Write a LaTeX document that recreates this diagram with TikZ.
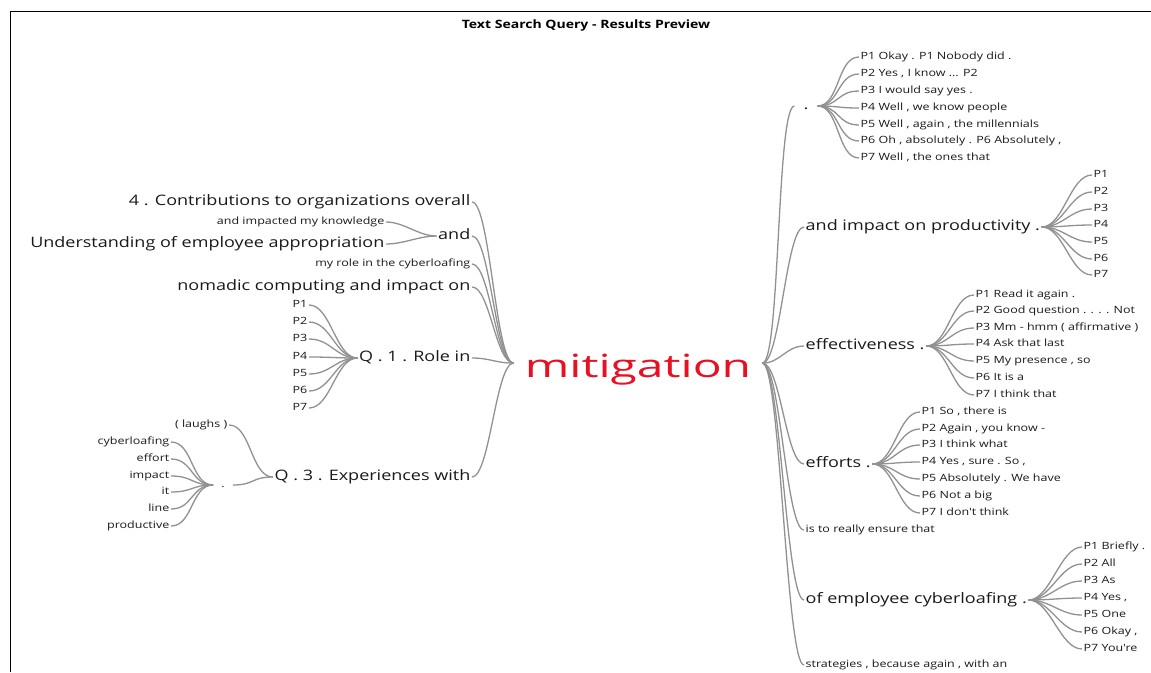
\documentclass[tikz,border=0pt]{standalone}
\usepackage{fontspec}
\setmainfont{Open Sans}
\newfontfamily\widefnt[FakeStretch=1.25]{Open Sans}
\newfontfamily\hugefnt[FakeStretch=1.5]{Open Sans}
\newfontfamily\titlefnt[FakeStretch=1.22]{Open Sans}
\usepackage{xcolor}
\definecolor{linkgray}{RGB}{145,145,145}
\definecolor{labelgray}{RGB}{25,25,25}
\definecolor{hitred}{RGB}{232,17,35}
\usepackage{tikz}

\begin{document}
\begin{tikzpicture}[x=1pt, y=-1pt]

        % Estilos
        \tikzstyle{big} = [font=\widefnt\fontsize{14.4}{16}\selectfont, text=labelgray, inner sep=1.5pt, text height=10.5pt, text depth=3pt]
        \tikzstyle{leaf} = [font=\widefnt\fontsize{10}{12}\selectfont, text=labelgray, inner sep=1.5pt, text height=7.2pt, text depth=2.2pt]
        \tikzstyle{link} = [draw=linkgray, line width=1.3pt]

        \useasboundingbox (0,0) rectangle (1151,672);
        \draw[line width=1.2pt] (10.5,672) -- (10.5,11.5) -- (1151,11.5);

        \node[font=\titlefnt\bfseries\fontsize{11.5}{13}\selectfont] (title) at (586,26) {Text Search Query - Results Preview};

        % Palavra central
        \node[font=\hugefnt\fontsize{32}{36}\selectfont, text=hitred, anchor=base, inner xsep=11pt] (mit) at (638,377) {mitigation};

        \begin{scope}[yshift=-2pt]
        % ---------------------------------------------------------
        % Lado esquerdo
        % ---------------------------------------------------------
        \node[big, anchor=east] (contrib) at (472,200) {4 . Contributions to organizations overall};
        \node[big, anchor=east] (andL) at (472,234) {and};
        \node[leaf, anchor=east] (knowl) at (386,220) {and impacted my knowledge};
        \node[big, anchor=east] (underst) at (386,242) {Understanding of employee appropriation};
        \node[leaf, anchor=east] (myrole) at (472,262) {my role in the cyberloafing};
        \node[big, anchor=east] (nomadic) at (472,285) {nomadic computing and impact on};

        \node[big, anchor=east] (qone) at (472,356) {Q . 1 . Role in};
        \node[leaf, anchor=east] (qonea) at (309,303) {P1};
        \node[leaf, anchor=east] (qoneb) at (309,320) {P2};
        \node[leaf, anchor=east] (qonec) at (309,337) {P3};
        \node[leaf, anchor=east] (qoned) at (309,355) {P4};
        \node[leaf, anchor=east] (qonee) at (309,372) {P5};
        \node[leaf, anchor=east] (qonef) at (309,389) {P6};
        \node[leaf, anchor=east] (qoneg) at (309,406) {P7};

        \node[big, anchor=east] (qthree) at (472,475) {Q . 3 . Experiences with};
        \node[leaf, anchor=east] (laughs) at (229,423) {( laughs )};
        \node[leaf, inner xsep=8pt] (dotL) at (223,483) {.};
        \node[leaf, anchor=east] (wcyber) at (171,440) {cyberloafing};
        \node[leaf, anchor=east] (weffort) at (171,457) {effort};
        \node[leaf, anchor=east] (wimpact) at (171,474) {impact};
        \node[leaf, anchor=east] (wit) at (171,490) {it};
        \node[leaf, anchor=east] (wline) at (171,507) {line};
        \node[leaf, anchor=east] (wprod) at (171,524) {productive};

        % ---------------------------------------------------------
        % Lado direito
        % ---------------------------------------------------------
        \node[big, inner xsep=9pt] (dotR) at (806,104) {.};
        \node[leaf, anchor=west] (ra) at (859,55) {P1 Okay . P1 Nobody did .};
        \node[leaf, anchor=west] (rb) at (859,72) {P2 Yes , I know ... P2};
        \node[leaf, anchor=west] (rc) at (859,89) {P3 I would say yes .};
        \node[leaf, anchor=west] (rd) at (859,106) {P4 Well , we know people};
        \node[leaf, anchor=west] (re) at (859,123) {P5 Well , again , the millennials};
        \node[leaf, anchor=west] (rf) at (859,139) {P6 Oh , absolutely . P6 Absolutely ,};
        \node[leaf, anchor=west] (rg) at (859,156) {P7 Well , the ones that};

        \node[big, anchor=west] (prod) at (804,225) {and impact on productivity .};
        \node[leaf, anchor=west] (proda) at (1092,173) {P1};
        \node[leaf, anchor=west] (prodb) at (1092,190) {P2};
        \node[leaf, anchor=west] (prodc) at (1092,207) {P3};
        \node[leaf, anchor=west] (prodd) at (1092,223) {P4};
        \node[leaf, anchor=west] (prode) at (1092,240) {P5};
        \node[leaf, anchor=west] (prodf) at (1092,257) {P6};
        \node[leaf, anchor=west] (prodg) at (1092,273) {P7};

        \node[big, anchor=west] (eff) at (804,344) {effectiveness .};
        \node[leaf, anchor=west] (effa) at (974,293) {P1 Read it again .};
        \node[leaf, anchor=west] (effb) at (974,309) {P2 Good question . . . . Not};
        \node[leaf, anchor=west] (effc) at (974,326) {P3 Mm - hmm ( affirmative )};
        \node[leaf, anchor=west] (effd) at (974,342) {P4 Ask that last};
        \node[leaf, anchor=west] (effe) at (974,359) {P5 My presence , so};
        \node[leaf, anchor=west] (efff) at (974,376) {P6 It is a};
        \node[leaf, anchor=west] (effg) at (974,393) {P7 I think that};

        \node[big, anchor=west] (efforts) at (804,462) {efforts .};
        \node[leaf, anchor=west] (effoa) at (920,410) {P1 So , there is};
        \node[leaf, anchor=west] (effob) at (920,427) {P2 Again , you know -};
        \node[leaf, anchor=west] (effoc) at (920,443) {P3 I think what};
        \node[leaf, anchor=west] (effod) at (920,460) {P4 Yes , sure . So ,};
        \node[leaf, anchor=west] (effoe) at (920,477) {P5 Absolutely . We have};
        \node[leaf, anchor=west] (effof) at (920,494) {P6 Not a big};
        \node[leaf, anchor=west] (effog) at (920,511) {P7 I don't think};

        \node[leaf, anchor=west] (ensure) at (804,528) {is to really ensure that};

        \node[big, anchor=west] (cyber) at (804,598) {of employee cyberloafing .};
        \node[leaf, anchor=west] (cybera) at (1082,545) {P1 Briefly .};
        \node[leaf, anchor=west] (cyberb) at (1082,562) {P2 All};
        \node[leaf, anchor=west] (cyberc) at (1082,579) {P3 As};
        \node[leaf, anchor=west] (cyberd) at (1082,596) {P4 Yes ,};
        \node[leaf, anchor=west] (cybere) at (1082,613) {P5 One};
        \node[leaf, anchor=west] (cyberf) at (1082,630) {P6 Okay ,};
        \node[leaf, anchor=west] (cyberg) at (1082,647) {P7 You're};

        \node[leaf, anchor=west] (strat) at (804,663) {strategies , because again , with an};
        \end{scope}

        % ---------------------------------------------------------
        % Ligacoes
        % ---------------------------------------------------------
        \foreach \n in {contrib, andL, myrole, nomadic, qone, qthree}
            \draw[link] (\n.east) .. controls +(18,0) and +(-18,0) .. ([yshift=6pt]mit.west);
        \foreach \n in {knowl, underst}
            \draw[link] (\n.east) .. controls +(18,0) and +(-18,0) .. (andL.west);
        \foreach \n in {qonea, qoneb, qonec, qoned, qonee, qonef, qoneg}
            \draw[link] (\n.east) .. controls +(22,0) and +(-22,0) .. (qone.west);
        \foreach \n in {laughs, dotL}
            \draw[link] (\n.east) .. controls +(22,0) and +(-22,0) .. (qthree.west);
        \foreach \n in {wcyber, weffort, wimpact, wit, wline, wprod}
            \draw[link] (\n.east) .. controls +(22,0) and +(-22,0) .. (dotL.west);

        \foreach \n in {dotR, prod, eff, efforts, ensure, cyber, strat}
            \draw[link] ([yshift=6pt]mit.east) .. controls +(18,0) and +(-18,0) .. (\n.west);
        \foreach \n in {ra, rb, rc, rd, re, rf, rg}
            \draw[link] (dotR.east) .. controls +(22,0) and +(-22,0) .. (\n.west);
        \foreach \n in {proda, prodb, prodc, prodd, prode, prodf, prodg}
            \draw[link] (prod.east) .. controls +(22,0) and +(-22,0) .. (\n.west);
        \foreach \n in {effa, effb, effc, effd, effe, efff, effg}
            \draw[link] (eff.east) .. controls +(22,0) and +(-22,0) .. (\n.west);
        \foreach \n in {effoa, effob, effoc, effod, effoe, effof, effog}
            \draw[link] (efforts.east) .. controls +(22,0) and +(-22,0) .. (\n.west);
        \foreach \n in {cybera, cyberb, cyberc, cyberd, cybere, cyberf, cyberg}
            \draw[link] (cyber.east) .. controls +(22,0) and +(-22,0) .. (\n.west);
    \end{tikzpicture}
\end{document}
